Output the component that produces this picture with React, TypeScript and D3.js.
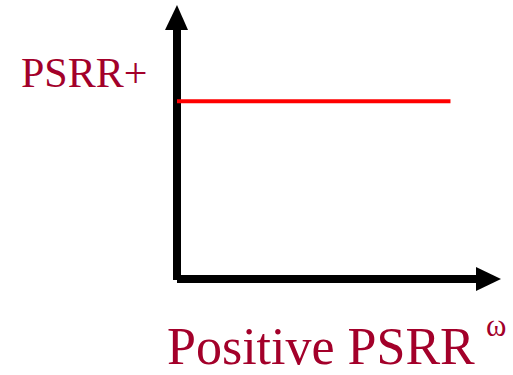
import React from "react";
import * as d3 from "d3";

// Flat positive supply rejection curve against frequency
const freqPoints = [0, 0.86];
const psrrValues = [0.72, 0.72];
const yLabel = "PSRR+";
const xLabel = "Positive PSRR";
const xUnit = "ω";

const W = 513;
const H = 375;
const RED = "#A3002A";

export default function App() {
  const ox = 177;
  const oy = 279;
  const x = d3.scaleLinear().domain([0, 1]).range([ox, ox + 318]);
  const y = d3.scaleLinear().domain([0, 1]).range([oy, oy - 247]);

  const pts = freqPoints.map((f, i) => [x(f), y(psrrValues[i])] as [number, number]);
  const line = d3.line()(pts) || "";

  return (
    <svg
      width={W}
      height={H}
      style={{ position: "absolute", left: 0, top: 0 }}
      fontFamily="'Liberation Serif', serif"
    >
      <rect width={W} height={H} fill="#fff" />
      {/* y axis with arrow head */}
      <line x1={ox} y1={oy + 1} x2={ox} y2={28} stroke="#000" strokeWidth={8} />
      <path d={`M${ox - 12},30 L${ox + 11},30 L${ox},5 Z`} fill="#000" />
      {/* x axis with arrow head */}
      <line x1={ox} y1={oy} x2={478} y2={oy} stroke="#000" strokeWidth={8} />
      <path d={`M476,267 L476,291 L501,279 Z`} fill="#000" />
      {/* response curve */}
      <path d={line} fill="none" stroke="#FF0000" strokeWidth={4} />
      <text x={21} y={87} fontSize={42} fill={RED}>
        {yLabel}
      </text>
      <text x={167} y={364} fontSize={52} fill={RED}>
        {xLabel}
      </text>
      <text x={486} y={336} fontSize={31} fill={RED}>
        {xUnit}
      </text>
    </svg>
  );
}
